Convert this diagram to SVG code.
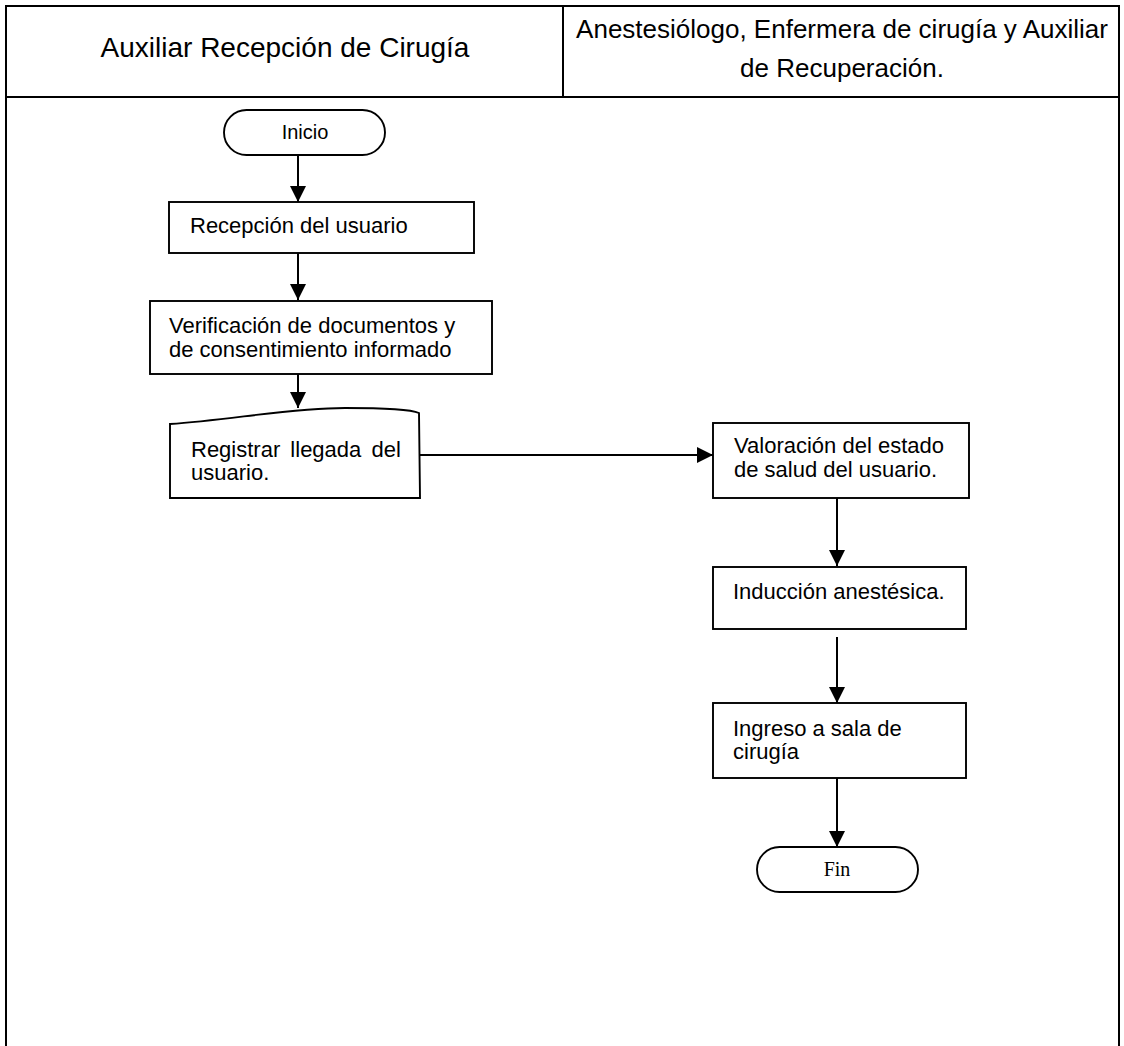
<svg xmlns="http://www.w3.org/2000/svg" width="1124" height="1046" viewBox="0 0 1124 1046">
  <style>
    .frame { fill: none; stroke: #000; stroke-width: 2; }
    .shape { fill: #fff; stroke: #000; stroke-width: 1.9; }
    .head { font-family: "Liberation Sans", Arial, sans-serif; font-size: 26px; fill: #000; }
    .lbl { font-family: "Liberation Sans", Arial, sans-serif; font-size: 22px; fill: #000; }
    .serif { font-family: "Liberation Serif", "Times New Roman", serif; font-size: 20px; fill: #000; }
    .link { fill: none; stroke: #000; stroke-width: 2; }
  </style>
  <defs>
    <marker id="arrow" markerWidth="8" markerHeight="9" refX="8" refY="4" orient="auto" markerUnits="strokeWidth">
      <path d="M0,0 L8,4 L0,8 Z" fill="#000"/>
    </marker>
  </defs>
  <rect width="1124" height="1046" fill="#fff"/>

  <!-- swimlane table -->
  <g id="lanes">
    <path class="frame" d="M6,1046 V6 H1119 V1046"/>
    <line class="frame" x1="6" y1="97" x2="1119" y2="97"/>
    <line class="frame" x1="563" y1="6" x2="563" y2="97"/>
    <text class="head" x="285" y="57" text-anchor="middle" style="font-size:28px">Auxiliar Recepción de Cirugía</text>
    <text class="head" x="842" y="38" text-anchor="middle">Anestesiólogo, Enfermera de cirugía y Auxiliar</text>
    <text class="head" x="842" y="77" text-anchor="middle">de Recuperación.</text>
  </g>

  <!-- connectors -->
  <g id="connectors">
    <line class="link" x1="298" y1="155" x2="298" y2="202" marker-end="url(#arrow)"/>
    <line class="link" x1="298" y1="253" x2="298" y2="300" marker-end="url(#arrow)"/>
    <line class="link" x1="298" y1="374" x2="298" y2="408" marker-end="url(#arrow)"/>
    <line class="link" x1="420" y1="455" x2="713" y2="455" marker-end="url(#arrow)"/>
    <line class="link" x1="837" y1="498" x2="837" y2="566" marker-end="url(#arrow)"/>
    <line class="link" x1="837" y1="637" x2="837" y2="703" marker-end="url(#arrow)"/>
    <line class="link" x1="837" y1="778" x2="837" y2="847" marker-end="url(#arrow)"/>
  </g>

  <g id="inicio">
    <rect class="shape" x="224" y="110" width="161" height="45" rx="22.5" ry="22.5"/>
    <text class="lbl" x="305" y="139" text-anchor="middle" style="font-size:20px">Inicio</text>
  </g>

  <g id="recepcion">
    <rect class="shape" x="169" y="202" width="305" height="51"/>
    <text class="lbl" x="190" y="233">Recepción del usuario</text>
  </g>

  <g id="verificacion">
    <rect class="shape" x="150" y="301" width="342" height="73"/>
    <text class="lbl" x="169" y="333">Verificación de documentos y</text>
    <text class="lbl" x="169" y="357">de consentimiento informado</text>
  </g>

  <g id="registrar">
    <path class="shape" d="M170,424 C230,420 290,408 345,408 C380,408 410,409 419,413 L420,498 L170,498 Z"/>
    <text class="lbl" x="191" y="457" word-spacing="4">Registrar llegada del</text>
    <text class="lbl" x="191" y="480">usuario.</text>
  </g>

  <g id="valoracion">
    <rect class="shape" x="713" y="423" width="256" height="75"/>
    <text class="lbl" x="734" y="453">Valoración del estado</text>
    <text class="lbl" x="734" y="477">de salud del usuario.</text>
  </g>

  <g id="induccion">
    <rect class="shape" x="713" y="567" width="253" height="62"/>
    <text class="lbl" x="733" y="599">Inducción anestésica.</text>
  </g>

  <g id="ingreso">
    <rect class="shape" x="713" y="703" width="253" height="75"/>
    <text class="lbl" x="733" y="736">Ingreso a sala de</text>
    <text class="lbl" x="733" y="759">cirugía</text>
  </g>

  <g id="fin">
    <rect class="shape" x="757" y="847" width="161" height="45" rx="22.5" ry="22.5"/>
    <text class="serif" x="837" y="876" text-anchor="middle">Fin</text>
  </g>
</svg>
